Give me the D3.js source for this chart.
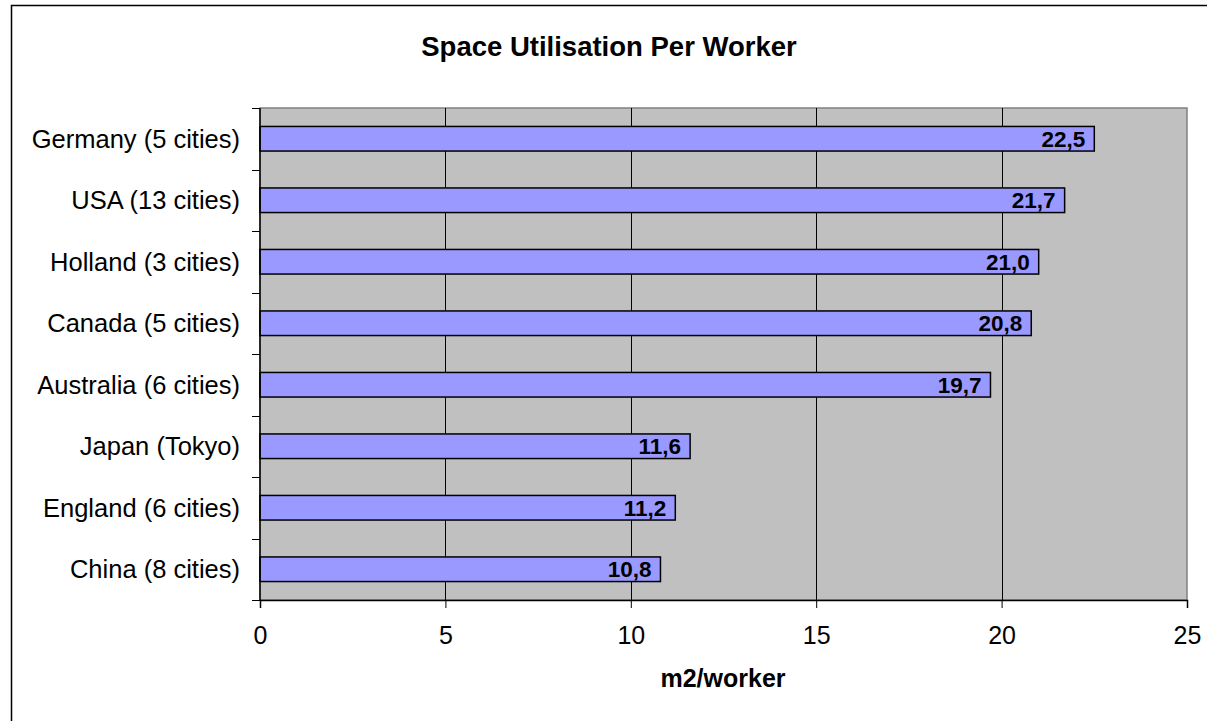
<!DOCTYPE html>
<html lang="en">
<head>
    <meta charset="UTF-8">
    <title>Space Utilisation Per Worker</title>
    <style>
      html, body { margin: 0; background: #fff; overflow: hidden; }
      svg { display: block; font-family: "Liberation Sans", Arial, sans-serif; }
    </style>
</head>
<body>
    <svg></svg>
    <script src="https://d3js.org/d3.v7.min.js"></script>
    <script>
    const categories = ['Germany (5 cities)', 'USA (13 cities)', 'Holland (3 cities)', 'Canada (5 cities)',
      'Australia (6 cities)', 'Japan (Tokyo)', 'England (6 cities)', 'China (8 cities)'];
    const values = [22.5, 21.7, 21.0, 20.8, 19.7, 11.6, 11.2, 10.8];
    const xTicks = [0, 5, 10, 15, 20, 25];

    const W = 1207, H = 721;
    const margin = { top: 108, left: 260 };
    const width = 1187 - margin.left;
    const height = 600 - margin.top;

    const svg = d3.select('svg').attr('width', W).attr('height', H);

    // outer chart border (only top/left visible)
    svg.append('path')
      .attr('d', `M11.5,${H}V5.5H${W}`)
      .attr('fill', 'none').attr('stroke', '#000').attr('stroke-width', 1.5);

    const x = d3.scaleLinear().domain([0, 25]).range([0, width]);
    const y = d3.scaleBand().domain(categories).range([0, height]).paddingInner(0.6).paddingOuter(0.3);
    const band = d3.scaleBand().domain(categories).range([0, height]);

    const g = svg.append('g').attr('transform', `translate(${margin.left},${margin.top})`);

    g.append('rect')
      .attr('width', width).attr('height', height)
      .attr('fill', '#c0c0c0').attr('stroke', '#808080').attr('stroke-width', 1.5);

    // vertical gridlines
    g.selectAll('.grid')
      .data(xTicks.slice(1, -1))
      .enter().append('line')
      .attr('x1', d => Math.round(x(d)) + 0.5).attr('x2', d => Math.round(x(d)) + 0.5)
      .attr('y1', 0).attr('y2', height)
      .attr('stroke', '#000').attr('stroke-width', 1);

    g.selectAll('.bar')
      .data(values)
      .enter().append('rect')
      .attr('x', 0)
      .attr('y', (d, i) => y(categories[i]))
      .attr('width', d => x(d))
      .attr('height', y.bandwidth())
      .attr('fill', '#9999ff')
      .attr('stroke', '#000').attr('stroke-width', 1.5);

    g.selectAll('.val')
      .data(values)
      .enter().append('text')
      .attr('x', d => x(d) - 9)
      .attr('y', (d, i) => y(categories[i]) + y.bandwidth() / 2)
      .attr('dy', '0.36em')
      .attr('text-anchor', 'end')
      .attr('font-size', 22.5).attr('font-weight', 'bold')
      .text(d => d.toFixed(1).replace('.', ','));

    // y axis
    const yAxis = g.append('g');
    yAxis.append('line').attr('x1', 0).attr('x2', 0).attr('y1', 0).attr('y2', height)
      .attr('stroke', '#000').attr('stroke-width', 1.5);
    const yBounds = categories.map(c => band(c)).concat([height]);
    yAxis.selectAll('.tk').data(yBounds).enter().append('line')
      .attr('x1', -8).attr('x2', 0)
      .attr('y1', d => Math.round(d) + 0.5).attr('y2', d => Math.round(d) + 0.5)
      .attr('stroke', '#000');
    yAxis.selectAll('.lab').data(categories).enter().append('text')
      .attr('x', -20)
      .attr('y', d => y(d) + y.bandwidth() / 2)
      .attr('dy', '0.36em')
      .attr('text-anchor', 'end')
      .attr('font-size', 25.5)
      .text(d => d);

    // x axis
    const xAxis = g.append('g')
      .attr('transform', `translate(0,${height})`)
      .call(d3.axisBottom(x).tickValues(xTicks).tickSize(8).tickPadding(18).tickFormat(d3.format('d')));
    xAxis.select('.domain').attr('stroke-width', 1.5);
    xAxis.selectAll('text').attr('font-size', 25).attr('fill', '#000')
      .style('font-family', '"Liberation Sans", Arial, sans-serif');

    svg.append('text')
      .attr('x', 609).attr('y', 56)
      .attr('text-anchor', 'middle')
      .attr('font-size', 27.5).attr('font-weight', 'bold')
      .text('Space Utilisation Per Worker');

    svg.append('text')
      .attr('x', 723).attr('y', 687)
      .attr('text-anchor', 'middle')
      .attr('font-size', 25).attr('font-weight', 'bold')
      .text('m2/worker');
    </script>
</body>
</html>
